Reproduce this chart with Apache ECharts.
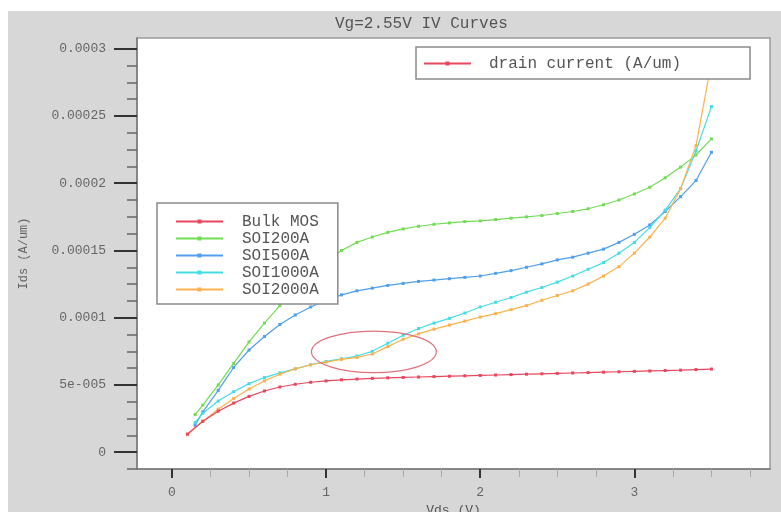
<!DOCTYPE html>
<html>
<head>
<meta charset="utf-8">
<script src="https://cdn.jsdelivr.net/npm/echarts@6/dist/echarts.min.js"></script>
<style>
html,body{margin:0;padding:0;background:#fff;width:781px;height:512px;overflow:hidden;}
#c{position:absolute;left:8px;top:11px;width:773px;height:501px;}
</style>
</head>
<body>
<div id="c"></div>
<script>
// ---- data (currents in units of 1e-5 A/um) ----
const titleText = 'Vg=2.55V IV Curves';
const xName = 'Vds (V)';
const yName = 'Ids (A/um)';
const topLegendName = 'drain current (A/um)';
const seriesNames = ['Bulk MOS', 'SOI200A', 'SOI500A', 'SOI1000A', 'SOI2000A'];

const vdsA = [0.1,0.2,0.3,0.4,0.5,0.6,0.7,0.8,0.9,1.0,1.1,1.2,1.3,1.4,1.5,1.6,1.7,1.8,1.9,2.0,2.1,2.2,2.3,2.4,2.5,2.6,2.7,2.8,2.9,3.0,3.1,3.2,3.3,3.4,3.5];
const vdsB = [0.15,0.2,0.3,0.4,0.5,0.6,0.7,0.8,0.9,1.0,1.1,1.2,1.3,1.4,1.5,1.6,1.7,1.8,1.9,2.0,2.1,2.2,2.3,2.4,2.5,2.6,2.7,2.8,2.9,3.0,3.1,3.2,3.3,3.4,3.5];

const bulkMOS = [1.35,2.3,3.05,3.65,4.15,4.55,4.85,5.05,5.2,5.3,5.38,5.44,5.49,5.53,5.56,5.59,5.62,5.65,5.68,5.71,5.74,5.77,5.8,5.83,5.86,5.89,5.92,5.95,5.98,6.01,6.04,6.07,6.1,6.14,6.18];
const soi200 = [2.8,3.5,5.0,6.6,8.2,9.6,10.9,12.1,13.2,14.2,15.0,15.6,16.0,16.35,16.6,16.8,16.95,17.05,17.15,17.2,17.3,17.4,17.5,17.6,17.75,17.9,18.1,18.4,18.75,19.2,19.7,20.4,21.2,22.1,23.3];
const soi500 = [2.0,3.0,4.6,6.3,7.6,8.6,9.5,10.2,10.8,11.3,11.7,12.0,12.2,12.4,12.55,12.7,12.8,12.9,13.0,13.1,13.3,13.5,13.75,14.0,14.3,14.5,14.8,15.1,15.6,16.2,16.9,17.9,19.0,20.2,22.3];
const soi1000 = [2.2,2.9,3.8,4.5,5.1,5.55,5.9,6.2,6.5,6.75,6.95,7.15,7.5,8.1,8.7,9.2,9.6,9.95,10.35,10.8,11.15,11.5,11.9,12.25,12.65,13.1,13.6,14.1,14.8,15.6,16.7,18.0,19.6,22.4,25.7];
const soi2000 = [1.3,2.3,3.2,4.0,4.7,5.3,5.8,6.2,6.5,6.7,6.9,7.05,7.3,7.85,8.4,8.8,9.15,9.45,9.75,10.05,10.3,10.6,10.9,11.3,11.65,12.0,12.5,13.1,13.8,14.8,16.0,17.4,19.6,22.8,29.0];

// ---- axis ticks ----
const xMajorTicks = [0,1,2,3];
const xMinorTicks = [0.25,0.5,0.75,1.25,1.5,1.75,2.25,2.5,2.75,3.25,3.5,3.75];
const yMajorTicks = [0,0.00005,0.0001,0.00015,0.0002,0.00025,0.0003];
const yMajorLabels = ['0','5e-005','0.0001','0.00015','0.0002','0.00025','0.0003'];
const yMinorTicks = [-0.0000125,0.0000125,0.000025,0.0000375,0.0000625,0.000075,0.0000875,0.0001125,0.000125,0.0001375,0.0001625,0.000175,0.0001875,0.0002125,0.000225,0.0002375,0.0002625,0.000275,0.0002875];

// annotation ellipse (data coordinates)
const ellipseCenter = [1.31, 0.0000746];
const ellipseRadius = [0.405, 0.0000155];

const colors = ['#e8465c', '#72dc55', '#4f9fec', '#45dce6', '#fbb24e'];
const FONT = '"Liberation Mono", "DejaVu Sans Mono", monospace';

function pairs(xs, ys) { return xs.map((x, i) => [x, ys[i] * 1e-5]); }

const chart = echarts.init(document.getElementById('c'), null, {renderer: 'canvas'});

const seriesData = [
  pairs(vdsA, bulkMOS),
  pairs(vdsB, soi200),
  pairs(vdsB, soi500),
  pairs(vdsB, soi1000),
  pairs(vdsA, soi2000)
];

const series = seriesNames.map((n, i) => ({
  name: n,
  type: 'line',
  xAxisIndex: 0,
  yAxisIndex: 0,
  data: seriesData[i],
  symbol: 'rect',
  symbolSize: [3, 3],
  showSymbol: true,
  animation: false,
  lineStyle: {width: 1.2, color: colors[i]},
  itemStyle: {color: colors[i]},
  z: 2 + (i === 0 ? 1 : 0)
}));
series.push({
  name: topLegendName,
  type: 'line',
  data: [],
  symbol: 'rect',
  symbolSize: [3, 3],
  lineStyle: {width: 1.2, color: colors[0]},
  itemStyle: {color: colors[0]}
});

const xMin = -0.227, xMax = 3.88;
const yMin = -0.0000125, yMax = 0.000308;

const option = {
  backgroundColor: '#d7d7d7',
  animation: false,
  title: {
    text: titleText,
    left: 327,
    top: 5,
    padding: 0,
    textStyle: {fontFamily: FONT, fontSize: 16, fontWeight: 'normal', color: '#555'}
  },
  grid: {
    left: 129, top: 27, right: 11, bottom: 43,
    containLabel: false,
    outerBoundsMode: 'none',
    show: true, backgroundColor: '#ffffff', borderColor: '#9a9a9a', borderWidth: 1.5
  },
  legend: [
    {
      data: [topLegendName],
      left: 408, top: 36,
      orient: 'vertical',
      backgroundColor: '#ffffff',
      borderColor: '#8a8a8a', borderWidth: 1.5, borderRadius: 0,
      padding: [8, 69, 7, 7],
      itemWidth: 47, itemHeight: 5,
      selectedMode: false,
      textStyle: {fontFamily: FONT, fontSize: 16, color: '#555', lineHeight: 17, padding: [0, 0, 0, 13]}
    },
    {
      data: seriesNames,
      left: 149, top: 192,
      orient: 'vertical',
      backgroundColor: '#ffffff',
      borderColor: '#8a8a8a', borderWidth: 1.5, borderRadius: 0,
      padding: [10, 19, 6, 18],
      itemGap: 0,
      itemWidth: 47, itemHeight: 5,
      selectedMode: false,
      textStyle: {fontFamily: FONT, fontSize: 16, color: '#555', lineHeight: 17, padding: [0, 0, 0, 14]}
    }
  ],
  xAxis: [
    {
      type: 'value', min: xMin, max: xMax, position: 'bottom',
      name: xName, nameLocation: 'middle', nameGap: 31,
      nameTextStyle: {fontFamily: FONT, fontSize: 13, color: '#555'},
      axisLine: {show: true, onZero: false, lineStyle: {color: '#7a7a7a', width: 1.5}},
      axisTick: {show: true, customValues: xMajorTicks, length: 9, lineStyle: {color: '#333', width: 2}},
      axisLabel: {show: true, customValues: xMajorTicks, margin: 17, fontFamily: FONT, fontSize: 13, color: '#666'},
      splitLine: {show: false}
    },
    {
      type: 'value', min: xMin, max: xMax, position: 'bottom',
      axisLine: {show: false, onZero: false},
      axisTick: {show: true, customValues: xMinorTicks, length: 8, lineStyle: {color: '#aaa', width: 1}},
      axisLabel: {show: false},
      splitLine: {show: false}
    }
  ],
  yAxis: [
    {
      type: 'value', min: yMin, max: yMax, position: 'left',
      name: yName, nameLocation: 'middle', nameGap: 107, nameRotate: 90,
      nameTextStyle: {fontFamily: FONT, fontSize: 12, color: '#666'},
      axisLine: {show: true, onZero: false, lineStyle: {color: '#7a7a7a', width: 1.5}},
      axisTick: {show: true, customValues: yMajorTicks, length: 23, lineStyle: {color: '#333', width: 2}},
      axisLabel: {
        show: true, customValues: yMajorTicks, margin: 31,
        fontFamily: FONT, fontSize: 13, color: '#666',
        formatter: function (v) {
          for (let i = 0; i < yMajorTicks.length; i++) {
            if (Math.abs(yMajorTicks[i] - v) < 1e-9) return yMajorLabels[i];
          }
          return '';
        }
      },
      splitLine: {show: false}
    },
    {
      type: 'value', min: yMin, max: yMax, position: 'left',
      axisLine: {show: false, onZero: false},
      axisTick: {show: true, customValues: yMinorTicks, length: 10, lineStyle: {color: '#666', width: 1.5}},
      axisLabel: {show: false},
      splitLine: {show: false}
    }
  ],
  series: series
};

chart.setOption(option);

// ellipse annotation positioned from data coordinates
const c0 = chart.convertToPixel({xAxisIndex: 0, yAxisIndex: 0}, ellipseCenter);
const c1 = chart.convertToPixel({xAxisIndex: 0, yAxisIndex: 0}, [ellipseCenter[0] + ellipseRadius[0], ellipseCenter[1] + ellipseRadius[1]]);
chart.setOption({
  graphic: [{
    type: 'ellipse',
    shape: {cx: c0[0], cy: c0[1], rx: Math.abs(c1[0] - c0[0]), ry: Math.abs(c1[1] - c0[1])},
    style: {fill: 'none', stroke: '#e0707c', lineWidth: 1.2},
    z: 10
  }]
});
</script>
</body>
</html>
